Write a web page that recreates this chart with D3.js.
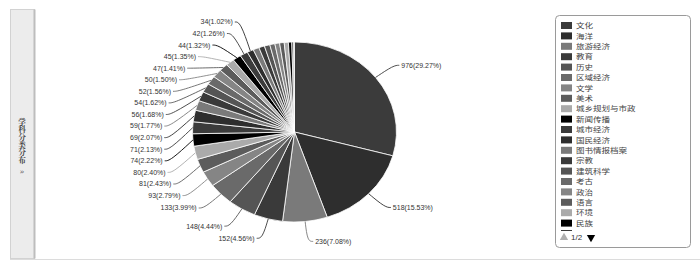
<!DOCTYPE html>
<html>
<head>
<meta charset="utf-8">
<script src="https://cdn.jsdelivr.net/npm/d3@7"></script>
<style>
  body { margin: 0; background: #fff; }
  svg { display: block; }
</style>
</head>
<body>
<div id="chart"></div>
<script>
// subject categories (32 in total, legend page 1 shows the first 20)
const categories = ["文化", "海洋", "旅游经济", "教育", "历史", "区域经济", "文学", "美术",
    "城乡规划与市政", "新闻传播", "城市经济", "国民经济", "图书情报档案", "宗教", "建筑科学",
    "考古", "政治", "语言", "环境", "民族", "社会学", "哲学", "法学", "管理学", "地理",
    "心理学", "体育", "艺术学", "军事", "农业经济", "交通运输", "其他"];
const counts = [976, 518, 236, 152, 148, 133, 93, 81, 80, 74, 71, 69, 59, 56, 54, 52, 50,
    47, 45, 44, 42, 34, 32, 30, 29, 27, 25, 24, 22, 18, 9, 5];
const grays = ["#3b3b3b", "#2e2e2e", "#7a7a7a", "#3a3a3a", "#555555",
    "#6a6a6a", "#858585", "#5c5c5c", "#aaaaaa", "#000000"];
const sideTitle = "学科分类分布";
const pageText = "1/2";

const width = 700, height = 267;
const cx = 294.5, cy = 132, r = 90, sx = 1.133;
const labelR = r + 20, len2 = 5, gap = 11.6;

const data = categories.map((c, i) => ({ name: c, value: counts[i] }));
const total = d3.sum(counts);
const color = d3.scaleOrdinal().domain(d3.range(grays.length)).range(grays);
const fmt = d3.format(".2f");

const svg = d3.select("#chart").append("svg")
    .attr("width", width)
    .attr("height", height);

// bottom rule and side tab
svg.append("line")
    .attr("x1", 10).attr("x2", width).attr("y1", 259.5).attr("y2", 259.5)
    .attr("stroke", "#dcdcdc");
svg.append("rect")
    .attr("x", 10.5).attr("y", 9.5).attr("width", 24).attr("height", 249)
    .attr("fill", "#ececec").attr("stroke", "#d2d2d2");
svg.append("line")
    .attr("x1", 34.5).attr("x2", 34.5).attr("y1", 9.5).attr("y2", 258.5)
    .attr("stroke", "#bdbdbd").attr("stroke-width", 2);
svg.append("text")
    .attr("x", 22).attr("y", 141)
    .attr("text-anchor", "middle")
    .style("writing-mode", "vertical-rl")
    .attr("font-family", "'Noto Serif CJK SC', 'Noto Sans CJK SC', serif")
    .attr("font-size", "7.6px")
    .attr("font-weight", "bold")
    .attr("fill", "#444")
    .text(sideTitle);
svg.append("text")
    .attr("x", 22).attr("y", 174)
    .attr("text-anchor", "middle")
    .attr("font-family", "'DejaVu Serif', serif")
    .attr("font-size", "8px")
    .attr("fill", "#555")
    .text("»");

// pie
const arcs = d3.pie().sort(null).value(d => d.value)(data);
const arc = d3.arc().innerRadius(0).outerRadius(r);

const pieG = svg.append("g")
    .attr("transform", "translate(" + cx + "," + cy + ") scale(" + sx + ",1)");

pieG.selectAll("path.slice")
    .data(arcs)
    .enter().append("path")
    .attr("class", "slice")
    .attr("d", arc)
    .attr("fill", (d, i) => color(i % 10))
    .attr("stroke", "#fff")
    .attr("stroke-width", 0.8)
    .attr("vector-effect", "non-scaling-stroke");

// labels only for slices of at least 1%
const labels = arcs
    .map((d, i) => {
        const mid = (d.startAngle + d.endAngle) / 2;
        return {
            i: i,
            value: d.data.value,
            mid: mid,
            right: mid < Math.PI,
            nx: Math.sin(mid) * labelR,
            y: -Math.cos(mid) * labelR
        };
    })
    .filter(d => d.value / total >= 0.01);

// push overlapping labels apart, kept inside the top/bottom limit
[true, false].forEach(side => {
    const list = labels.filter(d => d.right === side).sort((a, b) => a.y - b.y);
    const lim = labelR;
    for (let k = 0; k < 400; k++) {
        for (let j = 1; j < list.length; j++) {
            const d = list[j].y - list[j - 1].y;
            if (d < gap) {
                const s = (gap - d) / 2;
                list[j - 1].y -= s;
                list[j].y += s;
            }
        }
        list.forEach(l => { l.y = Math.max(-lim, Math.min(lim, l.y)); });
    }
});

labels.forEach(l => {
    const circ = Math.abs(l.y) < labelR ? Math.sqrt(labelR * labelR - l.y * l.y) : 0;
    const ax = Math.max(circ, Math.abs(l.nx));
    l.x = l.right ? ax : -ax;
    l.ex = l.right ? ax + len2 : -ax - len2;
});

const line = d3.line().curve(d3.curveBasis);

pieG.selectAll("path.leader")
    .data(labels)
    .enter().append("path")
    .attr("class", "leader")
    .attr("d", l => line([
        [Math.sin(l.mid) * r, -Math.cos(l.mid) * r],
        [l.x, l.y],
        [l.ex, l.y]
    ]))
    .attr("fill", "none")
    .attr("stroke", l => color(l.i % 10))
    .attr("stroke-width", 0.9)
    .attr("vector-effect", "non-scaling-stroke");

svg.append("g")
    .selectAll("text")
    .data(labels)
    .enter().append("text")
    .attr("x", l => cx + l.ex * sx + (l.right ? 2 : -2))
    .attr("y", l => cy + l.y)
    .attr("dy", "0.35em")
    .attr("text-anchor", l => l.right ? "start" : "end")
    .attr("font-family", "'Liberation Sans', Arial, sans-serif")
    .attr("font-size", "7px")
    .attr("fill", "#333")
    .text(l => l.value + "(" + fmt(l.value / total * 100) + "%)");

// legend (page 1 of 2)
const legend = svg.append("g");
legend.append("rect")
    .attr("x", 555.5).attr("y", 15.5).attr("width", 135).attr("height", 232)
    .attr("rx", 4)
    .attr("fill", "#fff")
    .attr("stroke", "#9a9a9a");

svg.append("clipPath").attr("id", "legclip")
    .append("rect").attr("x", 556).attr("y", 18).attr("width", 134).attr("height", 213);

const pageItems = data.slice(0, 21);
const rowY = d3.scaleBand()
    .domain(pageItems.map(d => d.name))
    .range([20.5, 20.5 + pageItems.length * 10.4]);

const item = legend.append("g")
    .attr("clip-path", "url(#legclip)")
    .selectAll("g")
    .data(pageItems)
    .enter().append("g")
    .attr("transform", d => "translate(0," + rowY(d.name) + ")");

item.append("rect")
    .attr("x", 561).attr("y", 1.5)
    .attr("width", 11).attr("height", 7)
    .attr("fill", (d, i) => color(i % 10));

// the 21st row is cut off by the box, only its swatch edge shows
item.filter((d, i) => i < 20).append("text")
    .attr("transform", "translate(576,5.2) scale(1.2,1)")
    .attr("dy", "0.35em")
    .attr("font-family", "'Noto Sans CJK SC', sans-serif")
    .attr("font-size", "7.1px")
    .attr("fill", "#444")
    .text(d => d.name);

// pager
legend.append("path")
    .attr("d", d3.symbol().type(d3.symbolTriangle).size(30))
    .attr("transform", "translate(564,237.5)")
    .attr("fill", "#b0b0b0");
legend.append("text")
    .attr("x", 571).attr("y", 237.5).attr("dy", "0.35em")
    .attr("font-family", "'Liberation Sans', Arial, sans-serif")
    .attr("font-size", "8px")
    .attr("fill", "#333")
    .text(pageText);
legend.append("path")
    .attr("d", d3.symbol().type(d3.symbolTriangle).size(30))
    .attr("transform", "translate(591,237.5) rotate(180)")
    .attr("fill", "#000");
</script>
</body>
</html>
